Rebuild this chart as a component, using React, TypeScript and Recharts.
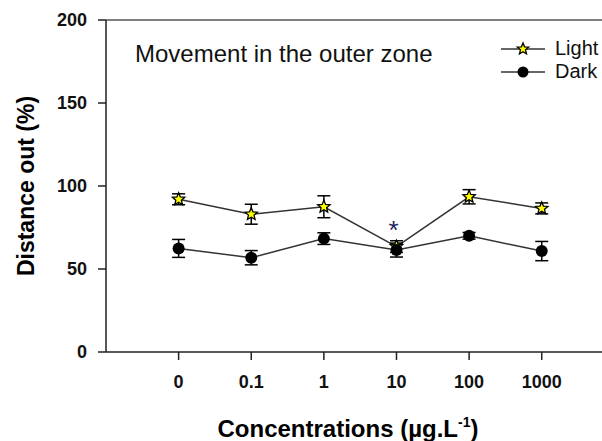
import { LineChart, Line, XAxis, YAxis, ErrorBar, ReferenceLine, Legend, LabelList } from 'recharts';

const concentrations = ['0', '0.1', '1', '10', '100', '1000'];
const lightValues = [92, 83, 87.5, 63.5, 93.5, 86.5];
const lightErrors = [3.3, 6, 6.6, 3.5, 4.3, 3.3];
const darkValues = [62.4, 56.8, 68.3, 61.4, 70, 60.8];
const darkErrors = [5.4, 4.3, 3.5, 4.2, 2, 5.8];
const significance = ['', '', '', '*', '', ''];
const yTicks = [0, 50, 100, 150, 200];
const legendOrder = ['light', 'dark'];

const chartData = concentrations.map((c, i) => ({
  x: i,
  label: c,
  light: lightValues[i],
  lightErr: lightErrors[i],
  dark: darkValues[i],
  darkErr: darkErrors[i],
  sig: significance[i],
}));

const FONT = '"Liberation Sans", Arial, sans-serif';

const starPoints = (cx: number, cy: number, r: number) => {
  const pts: string[] = [];
  for (let k = 0; k < 10; k++) {
    const rad = k % 2 === 0 ? r : r * 0.45;
    const a = -Math.PI / 2 + (k * Math.PI) / 5;
    pts.push(`${cx + rad * Math.cos(a)},${cy + rad * Math.sin(a)}`);
  }
  return pts.join(' ');
};

const StarDot = (props: any) => {
  const { cx, cy, index } = props;
  if (cx == null || cy == null) return null;
  return <polygon key={`s${index}`} points={starPoints(cx, cy, 6.5)} fill="#ffff00" stroke="#000" strokeWidth={1.3} />;
};

const CircleDot = (props: any) => {
  const { cx, cy, index } = props;
  if (cx == null || cy == null) return null;
  return <circle key={`c${index}`} cx={cx} cy={cy} r={6} fill="#000" />;
};

// significance mark drawn above the Light point
const SigLabel = (props: any) => {
  const { x, y, value } = props;
  if (!value) return null;
  return (
    <text x={x - 3} y={y - 8} textAnchor="middle" fontFamily={FONT} fontSize={26} fill="#1b1f5c">
      {value}
    </text>
  );
};

const LegendContent = (props: any) => {
  const items = [...(props.payload || [])].sort(
    (a: any, b: any) => legendOrder.indexOf(a.dataKey) - legendOrder.indexOf(b.dataKey)
  );
  return (
    <div style={{ fontFamily: FONT, fontSize: 20, color: '#111' }}>
      {items.map((entry: any) => (
        <div key={entry.value} style={{ display: 'flex', alignItems: 'center', height: 23 }}>
          <svg width={46} height={16} style={{ marginRight: 9 }}>
            <line x1={1} y1={8} x2={45} y2={8} stroke="#333" strokeWidth={1.5} />
            {entry.dataKey === 'light' ? (
              <polygon points={starPoints(23, 8, 6)} fill="#ffff00" stroke="#000" strokeWidth={1.3} />
            ) : (
              <circle cx={23} cy={8} r={5.5} fill="#000" />
            )}
          </svg>
          <span>{entry.value}</span>
        </div>
      ))}
    </div>
  );
};

const YLabel = (props: any) => {
  const { viewBox } = props;
  const cy = viewBox.y + viewBox.height / 2;
  return (
    <text x={26} y={cy} transform={`rotate(-90, 26, ${cy})`} textAnchor="middle" dominantBaseline="central"
      fontFamily={FONT} fontWeight="bold" fontSize={23} fill="#000">
      Distance out (%)
    </text>
  );
};

const XLabel = () => (
  <text x={348} y={437} textAnchor="middle" fontFamily={FONT} fontWeight="bold" fontSize={24} fill="#000">
    Concentrations (µg.L
    <tspan fontSize={14} dy={-10}>-1</tspan>
    <tspan dy={10}>)</tspan>
  </text>
);

export default function App() {
  return (
    <div style={{ position: 'absolute', left: 0, top: 0, background: '#fff' }}>
      <LineChart width={602} height={441} data={chartData} margin={{ top: 20, right: 0, left: 0, bottom: 0 }}>
        <XAxis
          type="number"
          dataKey="x"
          domain={[-1, 5.83]}
          ticks={[0, 1, 2, 3, 4, 5]}
          tickFormatter={(v: number) => concentrations[v]}
          allowDataOverflow
          height={89}
          tickSize={8}
          tickMargin={15}
          stroke="#222"
          strokeWidth={1.5}
          tick={{ fontFamily: FONT, fontWeight: 'bold', fontSize: 18, fill: '#111' }}
          label={<XLabel />}
        />
        <YAxis
          domain={[0, 200]}
          ticks={yTicks}
          width={106}
          tickSize={8}
          tickMargin={11}
          stroke="#222"
          strokeWidth={1.5}
          tick={{ fontFamily: FONT, fontWeight: 'bold', fontSize: 18, fill: '#111' }}
          label={<YLabel />}
        />
        <ReferenceLine y={200} stroke="#555" strokeWidth={1.5} />
        <text x={135} y={62} fontFamily={FONT} fontSize={24} fill="#111">
          Movement in the outer zone
        </text>
        <Legend
          layout="vertical"
          verticalAlign="middle"
          align="center"
          content={<LegendContent />}
          wrapperStyle={{ top: 37, left: 500, width: 102 }}
        />
        <Line
          type="linear"
          dataKey="light"
          name="Light"
          stroke="#333"
          strokeWidth={1.5}
          dot={<StarDot />}
          activeDot={false}
          isAnimationActive={false}
        >
          <ErrorBar dataKey="lightErr" direction="y" width={6.5} stroke="#000" strokeWidth={1.5} />
          <LabelList dataKey="sig" content={<SigLabel />} />
        </Line>
        <Line
          type="linear"
          dataKey="dark"
          name="Dark"
          stroke="#333"
          strokeWidth={1.5}
          dot={<CircleDot />}
          activeDot={false}
          isAnimationActive={false}
        >
          <ErrorBar dataKey="darkErr" direction="y" width={6.5} stroke="#000" strokeWidth={1.5} />
        </Line>
      </LineChart>
    </div>
  );
}
